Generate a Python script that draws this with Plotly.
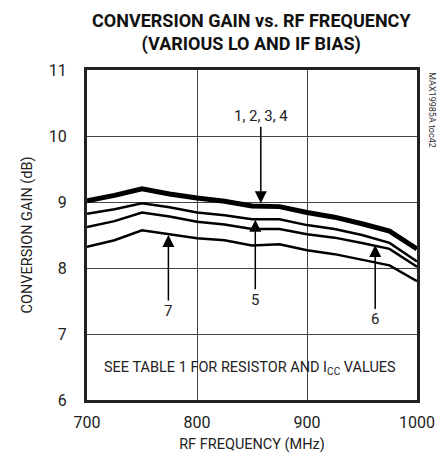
import plotly.graph_objects as go

# RF frequency (MHz)
freq = [700, 725, 750, 775, 800, 825, 850, 875, 900, 925, 950, 975, 1000]

# conversion gain (dB) for the different bias settings
gain_1234 = [9.02, 9.10, 9.20, 9.12, 9.06, 9.01, 8.94, 8.93, 8.84, 8.77, 8.67, 8.56, 8.29]
gain_5 = [8.82, 8.89, 8.98, 8.92, 8.84, 8.80, 8.74, 8.74, 8.65, 8.59, 8.50, 8.38, 8.10]
gain_6 = [8.62, 8.71, 8.84, 8.78, 8.70, 8.66, 8.59, 8.59, 8.51, 8.46, 8.38, 8.29, 8.02]
gain_7 = [8.32, 8.42, 8.57, 8.51, 8.45, 8.42, 8.34, 8.36, 8.27, 8.21, 8.13, 8.04, 7.80]

x_ticks = [700, 800, 900, 1000]
y_ticks = [6, 7, 8, 9, 10, 11]

# curve labels: (text, label x, label y, arrow tip y)
labels = [
    ("1, 2, 3, 4", 858, 10.30, 8.98),
    ("5", 853, 7.52, 8.73),
    ("6", 962, 7.22, 8.35),
    ("7", 774, 7.35, 8.50),
]

FONT = "Roboto, Liberation Sans, sans-serif"

fig = go.Figure()
fig.add_trace(go.Scatter(x=freq, y=gain_7, mode="lines", line=dict(color="black", width=2.5)))
fig.add_trace(go.Scatter(x=freq, y=gain_6, mode="lines", line=dict(color="black", width=2.5)))
fig.add_trace(go.Scatter(x=freq, y=gain_5, mode="lines", line=dict(color="black", width=2.5)))
fig.add_trace(go.Scatter(x=freq, y=gain_1234, mode="lines", line=dict(color="black", width=5)))

for text, lx, ly, tip in labels:
    fig.add_annotation(
        x=lx, y=tip, ax=lx, ay=ly, axref="x", ayref="y",
        text=text, showarrow=True, arrowhead=2, arrowsize=1.6, arrowwidth=1.5,
        arrowcolor="black", font=dict(family=FONT, size=15, color="#222"),
    )

fig.add_annotation(
    x=848, y=6.49, text="SEE TABLE 1 FOR RESISTOR AND I<sub>CC</sub> VALUES",
    showarrow=False, font=dict(family=FONT, size=14.5, color="#222"),
)

# chart title
fig.add_annotation(
    x=0.497, y=1.115, xref="paper", yref="paper", xanchor="center", yanchor="middle",
    text="<b>CONVERSION GAIN vs. RF FREQUENCY<br>(VARIOUS LO AND IF BIAS)</b>",
    showarrow=False, font=dict(family=FONT, size=18, color="#111"),
)

fig.add_annotation(
    x=1.045, y=1.0, xref="paper", yref="paper", xanchor="center", yanchor="top",
    text="MAX19985A toc42", textangle=90, showarrow=False,
    font=dict(family=FONT, size=9, color="#333"),
)

fig.update_layout(
    width=442, height=460,
    margin=dict(l=87, r=25, t=70, b=60),
    paper_bgcolor="white", plot_bgcolor="white",
    showlegend=False,
    font=dict(family=FONT, size=16, color="#222"),
    xaxis=dict(
        range=[700, 1000], tickvals=x_ticks, showgrid=True, gridcolor="#444", gridwidth=1,
        showline=True, linecolor="#222", linewidth=3, mirror=True, ticks="", zeroline=False,
        automargin=False, ticklabelstandoff=6,
        title=dict(text="RF FREQUENCY (MHz)", font=dict(size=14.5), standoff=8),
    ),
    yaxis=dict(
        range=[6, 11], tickvals=y_ticks, showgrid=True, gridcolor="#444", gridwidth=1,
        showline=True, linecolor="#222", linewidth=3, mirror=True, ticks="", zeroline=False,
        automargin=False, ticklabelstandoff=14,
        title=dict(text="CONVERSION GAIN (dB)", font=dict(size=14.5), standoff=13),
    ),
)

fig.write_html("out.html", config={"displayModeBar": False},
               post_script="document.body.style.margin='0px';")
